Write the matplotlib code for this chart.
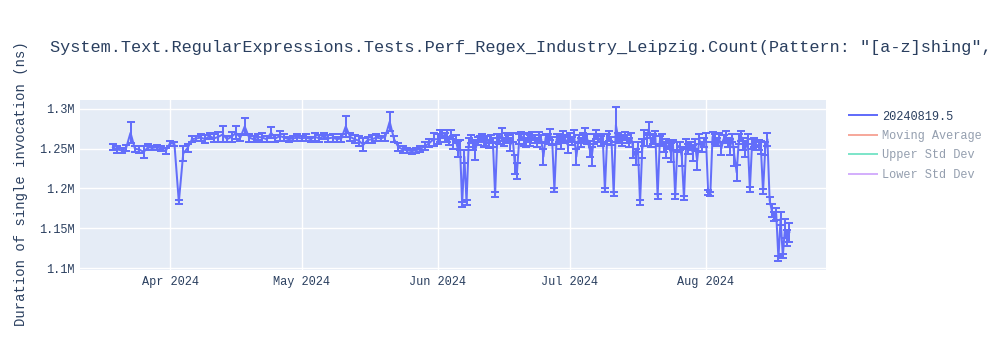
"""
Benchmark history plot: duration of a single regex Count invocation over time.
"""

import matplotlib
matplotlib.use("Agg")
import matplotlib.pyplot as plt
import matplotlib.dates as mdates
from matplotlib.lines import Line2D
import pandas as pd

TITLE = ('System.Text.RegularExpressions.Tests.Perf_Regex_Industry_Leipzig.Count('
         'Pattern: "[a-z]shing", Options: None)')
Y_LABEL = "Duration of single invocation (ns)"

# daily runs, Mar 19 - May 31 (values / errors in thousands of ns)
DAILY_START, DAILY_END = "2024-03-19", "2024-05-31"
DAILY_VALUES = [
    1252, 1249, 1248, 1251, 1270, 1250, 1249, 1246, 1252, 1251, 1252, 1250, 1247,
    1257, 1256, 1183, 1244, 1251, 1262, 1263, 1264, 1262, 1266, 1263, 1265, 1268,
    1262, 1265, 1270, 1264, 1278, 1264, 1262, 1265, 1264, 1262, 1270, 1263, 1266,
    1264, 1262, 1263, 1264,
    1263, 1264, 1262, 1265, 1263, 1266, 1263, 1264, 1262, 1263, 1278, 1265, 1262,
    1260, 1255, 1261, 1262, 1264, 1263, 1265, 1284, 1262, 1252, 1249, 1248, 1247,
    1248, 1250, 1253, 1257, 1262,
]
DAILY_ERRORS = [
    4, 4, 3, 4, 13, 4, 4, 8, 4, 3, 3, 3, 4,
    3, 3, 2, 10, 5, 4, 3, 4, 5, 4, 5, 6, 10,
    4, 6, 8, 4, 11, 5, 4, 4, 6, 4, 7, 4, 6,
    4, 3, 3, 4,
    3, 4, 3, 5, 4, 4, 4, 5, 3, 5, 13, 5, 5,
    6, 8, 4, 5, 4, 3, 5, 12, 4, 5, 4, 3, 3,
    3, 4, 5, 5, 8,
]

# twice-daily runs, Jun 1 - Aug 20
HALF_START, HALF_END = "2024-06-01 00:00", "2024-08-20 00:00"
HALF_VALUES = [
    # June
    1262, 1266, 1268, 1264, 1266, 1260, 1268, 1258, 1262, 1250,
    1255, 1180, 1240, 1182, 1258, 1262, 1255, 1248, 1260, 1262,
    1264, 1258, 1260, 1256, 1262, 1258, 1192, 1264, 1262, 1268,
    1258, 1264, 1262, 1255, 1264, 1230, 1222, 1262, 1266, 1262,
    1258, 1264, 1260, 1266, 1262, 1258, 1265, 1262, 1240, 1264,
    1262, 1268, 1260, 1198, 1262, 1264, 1258, 1266, 1262, 1255,
    # July
    1264, 1260, 1266, 1240, 1262, 1258, 1264, 1268, 1262, 1250,
    1240, 1262, 1268, 1264, 1260, 1264, 1198, 1262, 1266, 1260,
    1193, 1280, 1264, 1262, 1260, 1266, 1262, 1258, 1264, 1248,
    1240, 1252, 1182, 1250, 1264, 1262, 1275, 1258, 1262, 1264,
    1190, 1260, 1262, 1252, 1250, 1255, 1245, 1255, 1190, 1252,
    1254, 1240, 1188, 1256, 1250, 1254, 1245, 1256, 1235, 1262,
    1252, 1258,
    # August
    1264, 1195, 1193, 1265, 1262, 1258, 1264, 1250, 1262, 1266,
    1258, 1252, 1264, 1240, 1220, 1262, 1266, 1256, 1250, 1262,
    1199, 1256, 1258, 1254, 1255, 1252, 1196, 1250, 1262, 1185,
    1172, 1165, 1168, 1112, 1162, 1115, 1150, 1138, 1145,
]
HALF_ERRORS = [
    6, 8, 5, 6, 7, 5, 6, 8, 5, 10,
    6, 3, 8, 3, 6, 5, 6, 12, 5, 4,
    4, 6, 6, 5, 5, 6, 3, 5, 6, 8,
    5, 6, 5, 8, 6, 12, 10, 6, 5, 8,
    6, 5, 7, 5, 5, 6, 6, 5, 10, 5,
    6, 7, 5, 3, 6, 5, 8, 6, 5, 10,
    6, 5, 8, 10, 5, 6, 6, 8, 6, 10,
    12, 6, 6, 5, 6, 5, 3, 6, 6, 5,
    3, 22, 6, 5, 6, 5, 5, 6, 6, 10,
    10, 6, 3, 12, 10, 8, 8, 6, 6, 8,
    3, 6, 6, 6, 12, 5, 12, 6, 3, 6,
    5, 12, 3, 6, 6, 5, 10, 6, 12, 6,
    6, 6,
    6, 3, 3, 6, 6, 5, 6, 8, 5, 6,
    6, 10, 5, 12, 10, 6, 6, 8, 10, 6,
    3, 6, 6, 5, 6, 8, 3, 8, 8, 4,
    8, 6, 8, 3, 8, 3, 12, 10, 12,
]

SERIES_LABEL = "20240819.5"
HIDDEN_LABELS = ["Moving Average", "Upper Std Dev", "Lower Std Dev"]
HIDDEN_COLORS = ["#EF553B", "#00CC96", "#AB63FA"]
LINE_COLOR = "#636EFA"
FONT = ["Liberation Mono", "DejaVu Sans Mono"]
TEXT_COLOR = "#2a3f5f"


def build_frame():
    daily = pd.DataFrame({
        "date": pd.date_range(DAILY_START, DAILY_END, freq="D"),
        "value": DAILY_VALUES,
        "err": DAILY_ERRORS,
    })
    half = pd.DataFrame({
        "date": pd.date_range(HALF_START, HALF_END, freq="12h"),
        "value": HALF_VALUES,
        "err": HALF_ERRORS,
    })
    df = pd.concat([daily, half], ignore_index=True)
    df["value"] = df["value"] * 1000.0
    df["err"] = df["err"] * 1000.0
    return df


def millions(v, _pos):
    return f"{v / 1e6:g}M"


def main():
    plt.rcParams["font.family"] = FONT
    df = build_frame()

    fig = plt.figure(figsize=(10, 3.5), dpi=100)
    ax = fig.add_axes([0.08, 0.2286, 0.746, 0.4857])
    ax.set_facecolor("#E5ECF6")

    ax.errorbar(
        df["date"], df["value"], yerr=df["err"],
        color=LINE_COLOR, ecolor=LINE_COLOR, linewidth=1.44,
        elinewidth=1.44, capsize=3.2, capthick=1.44, zorder=3,
    )

    ax.set_xlim(pd.Timestamp("2024-03-11 12:00"), pd.Timestamp("2024-08-28 08:00"))
    ax.set_ylim(1.0975e6, 1.3113e6)
    ax.set_yticks([1.1e6, 1.15e6, 1.2e6, 1.25e6, 1.3e6])
    ax.yaxis.set_major_formatter(plt.FuncFormatter(millions))
    ax.xaxis.set_major_locator(mdates.MonthLocator())
    ax.xaxis.set_major_formatter(mdates.DateFormatter("%b %Y"))

    ax.grid(color="white", linewidth=1, zorder=0)
    ax.set_axisbelow(True)
    for side in ax.spines.values():
        side.set_visible(False)
    ax.tick_params(length=0, labelsize=8.6, colors=TEXT_COLOR, pad=4)

    ax.set_ylabel(Y_LABEL, fontsize=10, color=TEXT_COLOR)
    ax.yaxis.set_label_coords(-0.07, 0.506)
    fig.text(0.05, 0.865, TITLE, fontsize=12.2, color=TEXT_COLOR, va="center")

    handles = [Line2D([], [], color=LINE_COLOR, linewidth=1.44)]
    handles += [Line2D([], [], color=c, linewidth=1.44, alpha=0.5) for c in HIDDEN_COLORS]
    leg = fig.legend(
        handles, [SERIES_LABEL] + HIDDEN_LABELS,
        loc="upper left", bbox_to_anchor=(0.838, 0.715),
        frameon=False, fontsize=8.6, handlelength=2.4, handletextpad=0.4,
        labelspacing=0.62,
    )
    for i, txt in enumerate(leg.get_texts()):
        txt.set_color(TEXT_COLOR)
        if i > 0:
            txt.set_alpha(0.5)

    fig.savefig("out.png", dpi=100, facecolor="white")
    plt.close(fig)


if __name__ == "__main__":
    main()
